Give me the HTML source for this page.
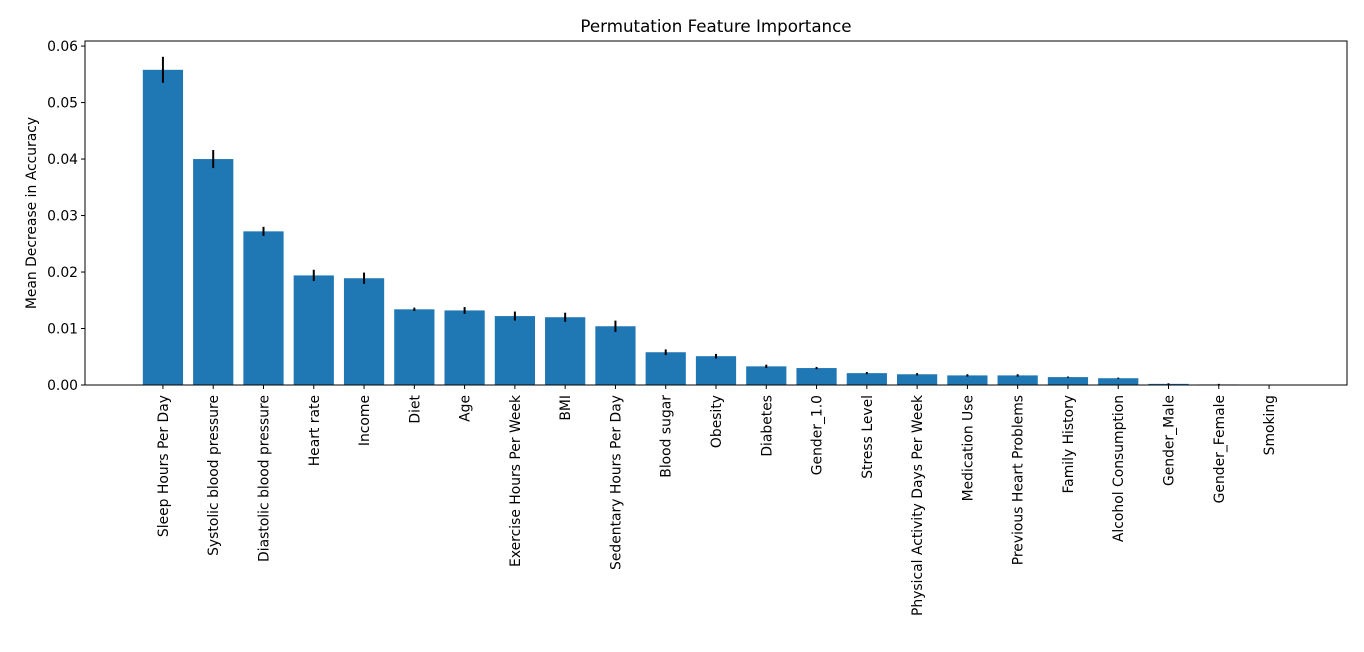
<!DOCTYPE html>
<html><head><meta charset="utf-8"><style>
html,body{margin:0;padding:0;background:#fff;}
svg{display:block;font-family:"DejaVu Sans","Liberation Sans",sans-serif;}
</style></head><body>
<svg id="chart" width="1364" height="652" viewBox="0 0 1364 652" xmlns="http://www.w3.org/2000/svg">
<rect width="1364" height="652" fill="#fff"/>
<text x="716" y="32" font-size="16.7" text-anchor="middle">Permutation Feature Importance</text>
<text transform="translate(36,213) rotate(-90)" font-size="13.9" text-anchor="middle">Mean Decrease in Accuracy</text>
<g id="bars"></g><g id="errs"></g><g id="yticks"></g><g id="xticks"></g>
<rect x="85" y="41" width="1262" height="344" fill="none" stroke="#000" stroke-width="1"/>
</svg>
<script>
const categories=["Sleep Hours Per Day","Systolic blood pressure","Diastolic blood pressure","Heart rate","Income","Diet","Age","Exercise Hours Per Week","BMI","Sedentary Hours Per Day","Blood sugar","Obesity","Diabetes","Gender_1.0","Stress Level","Physical Activity Days Per Week","Medication Use","Previous Heart Problems","Family History","Alcohol Consumption","Gender_Male","Gender_Female","Smoking"];
const values=[0.0558,0.0400,0.0272,0.0194,0.0189,0.0134,0.0132,0.0122,0.0120,0.0104,0.0058,0.0051,0.0033,0.0030,0.0021,0.0019,0.0017,0.0017,0.0014,0.0012,0.0002,0.0001,0.0];
const errors=[0.0023,0.0016,0.0008,0.0010,0.0010,0.0003,0.0006,0.0008,0.0008,0.0010,0.0005,0.0004,0.0003,0.0002,0.0002,0.0002,0.0002,0.0002,0.0001,0.0001,0.0001,0.0001,0.0];
const yTicks=[0,0.01,0.02,0.03,0.04,0.05,0.06];
const yTickLabels=["0.00","0.01","0.02","0.03","0.04","0.05","0.06"];
const NS="http://www.w3.org/2000/svg";
const L=85,R=1347,T=41,B=385;
const xmin=-1.55,xmax=categories.length-1+1.55;
const ymin=0,ymax=0.0609;
const xs=i=>L+(i-xmin)/(xmax-xmin)*(R-L);
const ys=v=>B-(v-ymin)/(ymax-ymin)*(B-T);
const unit=(R-L)/(xmax-xmin);
function mk(tag,attrs,parent){const e=document.createElementNS(NS,tag);for(const k in attrs)e.setAttribute(k,attrs[k]);document.getElementById(parent).appendChild(e);return e;}
categories.forEach((c,i)=>{
  const cx=xs(i),w=unit*0.8;
  const b=mk('rect',{x:cx-w/2,y:ys(values[i]),width:w,height:B-ys(values[i]),fill:'#1f77b4'},'bars');
  
  
  if(errors[i]>0){
    const e=mk('line',{x1:cx,x2:cx,y1:ys(values[i]+errors[i]),y2:ys(values[i]-errors[i]),stroke:'#000','stroke-width':2},'errs');
    
    
  }
  const t=mk('line',{x1:cx,x2:cx,y1:B,y2:B+4,stroke:'#000'},'xticks');
  
  
  const lb=mk('text',{transform:`translate(${cx+5},${B+10}) rotate(-90)`,'font-size':13.9,'text-anchor':'end'},'xticks');
  lb.textContent=c;
  
  
});
yTicks.forEach((v,i)=>{
  const y=ys(v);
  const t=mk('line',{x1:L-4,x2:L,y1:y,y2:y,stroke:'#000'},'yticks');
  
  
  const lb=mk('text',{x:L-7,y:y+5,'font-size':13.9,'text-anchor':'end'},'yticks');
  lb.textContent=yTickLabels[i];
  
  
});
</script>
</body></html>
